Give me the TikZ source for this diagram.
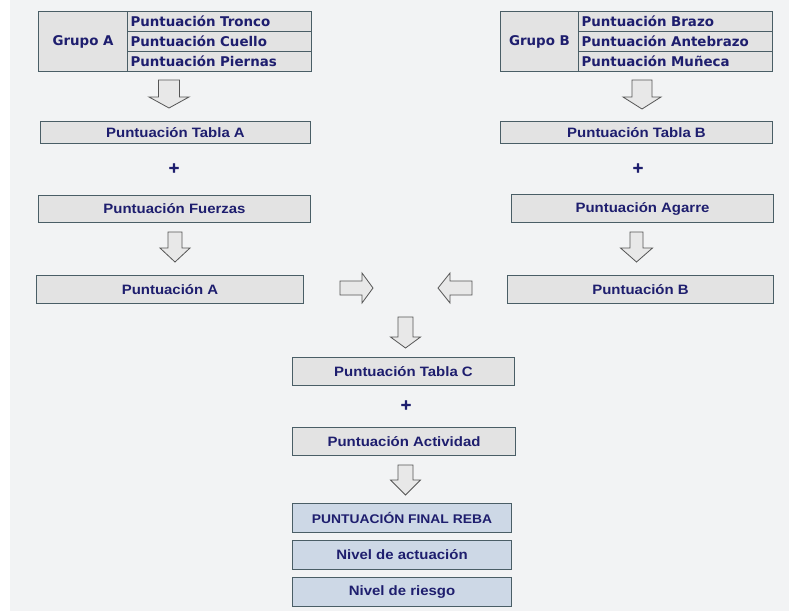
\documentclass[tikz,border=0pt]{standalone}
\usepackage{fontspec}
\newfontfamily\tabfont{DejaVu Sans}
\newfontfamily\plusfont[FakeBold=4]{DejaVu Sans Bold}
\newfontfamily\boxfont[FakeStretch=1.1]{Liberation Sans}
\definecolor{bgc}{HTML}{F2F3F4}
\definecolor{bordc}{HTML}{4A5E66}
\definecolor{boxfill}{HTML}{E3E3E3}
\definecolor{finfill}{HTML}{CDD8E6}
\definecolor{txtc}{HTML}{1E1E6E}
\definecolor{arrfill}{HTML}{E8E8E8}
\definecolor{arrdraw}{HTML}{555555}
\newcommand{\darr}[6]{%
  \filldraw[blockarrow] ({#1-#5/2},#2) -- ({#1+#5/2},#2) -- ({#1+#5/2},#3) -- ({#1+#6/2},#3) -- (#1,#4) -- ({#1-#6/2},#3) -- ({#1-#5/2},#3) -- cycle;}
\newcommand{\harr}[6]{%
  \filldraw[blockarrow] (#2,{#1-#5/2}) -- (#3,{#1-#5/2}) -- (#3,{#1-#6/2}) -- (#4,#1) -- (#3,{#1+#6/2}) -- (#3,{#1+#5/2}) -- (#2,{#1+#5/2}) -- cycle;}
\begin{document}
\begin{tikzpicture}[x=1pt,y=-1pt,
  box/.style={draw=bordc, line width=1pt, fill=boxfill, text=txtc,
    font=\boxfont\bfseries\fontsize{13.6}{15}\selectfont, inner sep=0pt, anchor=north west},
  finbox/.style={box, fill=finfill},
  cell/.style={draw=bordc, line width=1pt, fill=boxfill, text=txtc,
    font=\tabfont\bfseries\fontsize{13.4}{14}\selectfont, inner sep=0pt, anchor=north west},
  rowcell/.style={cell, text width=178pt, align=left, inner xsep=3pt, minimum height=20pt},
  plus/.style={text=txtc, font=\plusfont\fontsize{14}{16}\selectfont, inner sep=0pt},
  blockarrow/.style={fill=arrfill, draw=arrdraw, line width=0.8pt}]
\useasboundingbox (0,0) rectangle (789,611);
\fill[white] (0,0) rectangle (789,611);
\fill[bgc] (10,0) rectangle (789,611);

% Group A table
\node[cell, minimum width=89pt, minimum height=60pt] (gA) at (38,11) {Grupo A};
\node[rowcell] (gA1) at (127,11) {Puntuación Tronco};
\node[rowcell] (gA2) at (127,31) {Puntuación Cuello};
\node[rowcell] (gA3) at (127,51) {Puntuación Piernas};

% Group B table
\node[cell, minimum width=78pt, minimum height=60pt] (gB) at (500,11) {Grupo B};
\node[rowcell, text width=188pt] (gB1) at (578,11) {Puntuación Brazo};
\node[rowcell, text width=188pt] (gB2) at (578,31) {Puntuación Antebrazo};
\node[rowcell, text width=188pt] (gB3) at (578,51) {Puntuación Muñeca};

% Left column
\node[box, minimum width=270pt, minimum height=22pt] (tA) at (40,121) {Puntuación Tabla A};
\node[plus] (plA) at (174,168) {+};
\node[box, minimum width=272pt, minimum height=27pt] (fA) at (38,195) {Puntuación Fuerzas};
\node[box, minimum width=267pt, minimum height=28pt] (pA) at (36,275) {Puntuación A};

% Right column
\node[box, minimum width=272pt, minimum height=22pt] (tB) at (500,121) {Puntuación Tabla B};
\node[plus] (plB) at (638,168) {+};
\node[box, minimum width=262pt, minimum height=28pt] (agB) at (511,194) {Puntuación Agarre};
\node[box, minimum width=266pt, minimum height=28pt] (pB) at (507,275) {Puntuación B};

% Center column
\node[box, minimum width=222pt, minimum height=28pt] (tC) at (292,357) {Puntuación Tabla C};
\node[plus] (plC) at (406,405) {+};
\node[box, minimum width=223pt, minimum height=28pt] (act) at (292,427) {Puntuación Actividad};
\node[finbox, minimum width=219pt, minimum height=29pt, font=\boxfont\bfseries\fontsize{12.6}{15}\selectfont] (fin) at (292,503) {PUNTUACIÓN FINAL REBA};
\node[finbox, minimum width=219pt, minimum height=29pt] (na) at (292,540) {Nivel de actuación};
\node[finbox, minimum width=219pt, minimum height=29pt] (nr) at (292,577) {Nivel de riesgo};

% Block arrows
\darr{169}{80}{97}{108}{21}{40}
\darr{642}{80}{97}{109}{20}{38}
\darr{175}{232}{248}{262}{14}{30}
\darr{636.5}{232}{248}{262}{13}{32}
\harr{288}{340}{362}{373}{14}{30}
\harr{288}{472}{450}{438}{14}{30}
\darr{405.5}{317}{337}{348}{15}{30}
\darr{405.5}{465}{480}{495}{15}{30}
\end{tikzpicture}
\end{document}
